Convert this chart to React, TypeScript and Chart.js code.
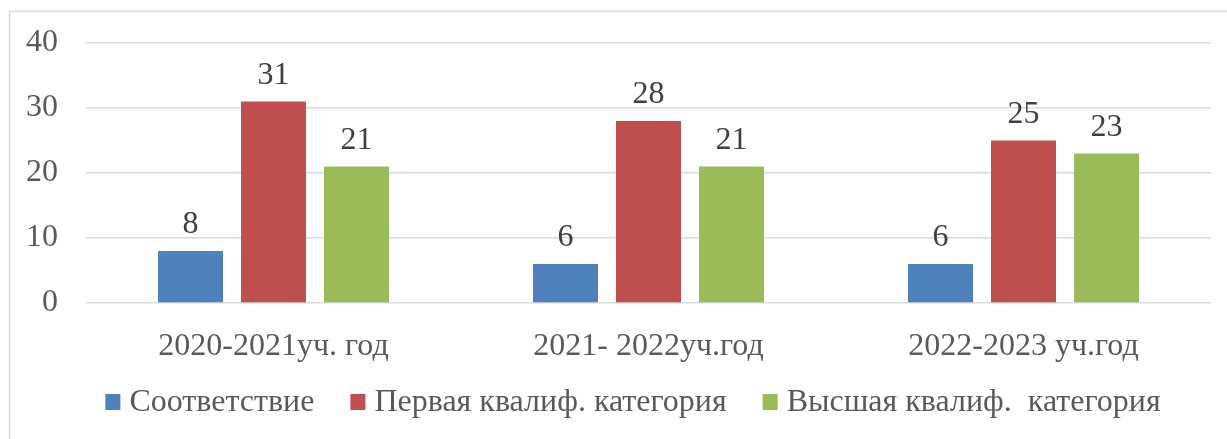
import React, { useEffect, useRef } from "react";
import { Chart, registerables } from "chart.js";

Chart.register(...registerables);

const categories = ["2020-2021уч. год", "2021- 2022уч.год", "2022-2023 уч.год"];
const seriesNames = ["Соответствие", "Первая квалиф. категория", "Высшая квалиф.  категория"];
const complianceValues = [8, 6, 6];
const firstCategoryValues = [31, 28, 25];
const highestCategoryValues = [21, 21, 23];
const seriesColors = ["#4F81BD", "#C0504D", "#9BBB59"];
const yTicks = [0, 10, 20, 30, 40];

const FONT = "'Liberation Serif', 'Times New Roman', serif";
const FONT_SIZE = 32;

const borderPlugin = {
  id: "outerBorder",
  beforeDraw(chart: any) {
    const ctx = chart.ctx;
    ctx.save();
    ctx.fillStyle = "#ffffff";
    ctx.fillRect(0, 0, chart.width, chart.height);
    ctx.strokeStyle = "#d9d9d9";
    ctx.lineWidth = 1.5;
    ctx.strokeRect(9.5, 11.5, chart.width + 50, chart.height + 50);
    ctx.restore();
  },
};

const dataLabelPlugin = {
  id: "dataLabels",
  afterDatasetsDraw(chart: any) {
    const ctx = chart.ctx;
    ctx.save();
    ctx.font = `${FONT_SIZE}px ${FONT}`;
    ctx.fillStyle = "#404040";
    ctx.textAlign = "center";
    ctx.textBaseline = "alphabetic";
    chart.data.datasets.forEach((ds: any, i: number) => {
      const meta = chart.getDatasetMeta(i);
      meta.data.forEach((bar: any, j: number) => {
        ctx.fillText(String(ds.data[j]), bar.x, bar.y - 18);
      });
    });
    ctx.restore();
  },
};

const legendPlugin = {
  id: "customLegend",
  afterDraw(chart: any) {
    const ctx = chart.ctx;
    ctx.save();
    ctx.font = `${FONT_SIZE}px ${FONT}`;
    ctx.textBaseline = "middle";
    ctx.textAlign = "left";
    const box = 15;
    const gap = 9;
    const itemGap = 36;
    const items = chart.data.datasets.map((ds: any) => ({
      label: ds.label,
      color: ds.backgroundColor,
      w: ctx.measureText(ds.label).width,
    }));
    const total =
      items.reduce((s: number, it: any) => s + box + gap + it.w, 0) + itemGap * (items.length - 1);
    let x = 633 - total / 2;
    const cy = 402;
    items.forEach((it: any) => {
      ctx.fillStyle = it.color;
      ctx.fillRect(x, cy - 8, box, box + 1);
      ctx.fillStyle = "#595959";
      ctx.fillText(it.label, x + box + gap, cy + 1);
      x += box + gap + it.w + itemGap;
    });
    ctx.restore();
  },
};

export default function App() {
  const ref = useRef<HTMLCanvasElement>(null);
  useEffect(() => {
    if (!ref.current) return;
    const values = [complianceValues, firstCategoryValues, highestCategoryValues];
    const chart = new Chart(ref.current, {
      type: "bar",
      data: {
        labels: categories,
        datasets: seriesNames.map((name, i) => ({
          label: name,
          data: values[i],
          backgroundColor: seriesColors[i],
          categoryPercentage: 0.664,
          barPercentage: 0.783,
        })),
      },
      options: {
        responsive: false,
        animation: false,
        layout: { padding: { top: 43, left: 0, right: 16, bottom: 0 } },
        plugins: {
          legend: { display: false },
          tooltip: { enabled: false },
        },
        scales: {
          x: {
            grid: { display: false },
            border: { display: false },
            ticks: { font: { family: FONT, size: FONT_SIZE }, color: "#595959", padding: 16 },
            afterFit: (scale: any) => {
              scale.height = 136;
              scale.paddingLeft = 0;
              scale.paddingRight = 0;
            },
          },
          y: {
            min: 0,
            max: 40,
            afterBuildTicks: (scale: any) => {
              scale.ticks = yTicks.map((v) => ({ value: v }));
            },
            grid: { color: "#d9d9d9", lineWidth: 1.5, drawTicks: false },
            border: { display: false },
            ticks: { font: { family: FONT, size: FONT_SIZE }, color: "#595959", padding: 28 },
            afterFit: (scale: any) => {
              scale.width = 86;
              scale.paddingTop = 0;
              scale.paddingBottom = 0;
            },
          },
        },
      },
      plugins: [borderPlugin, dataLabelPlugin, legendPlugin],
    });
    return () => chart.destroy();
  }, []);
  return (
    <div style={{ position: "absolute", left: 0, top: 0, width: 1227, height: 439 }}>
      <canvas ref={ref} width={1227} height={439} />
    </div>
  );
}
